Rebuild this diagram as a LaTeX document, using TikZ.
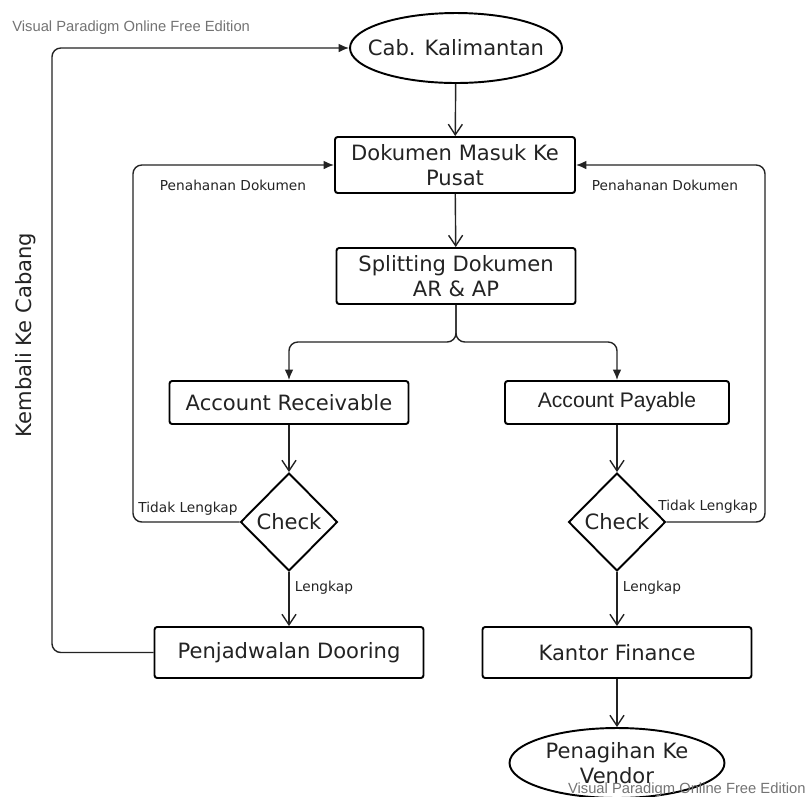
\documentclass[tikz,border=0pt]{standalone}
\usepackage{fontspec}
\setmainfont{DejaVu Sans}
\newfontfamily\arialfont{Liberation Sans}
\usetikzlibrary{arrows.meta,shapes.geometric}
\definecolor{inkgray}{RGB}{35,35,35}
\definecolor{wmgray}{RGB}{115,115,115}
\tikzset{
  proc/.style={draw=black,line width=1.1pt,rounded corners=1.5pt,align=center,inner sep=2pt,font=\fontsize{12}{14}\selectfont,text=inkgray},
  term/.style={ellipse,draw=black,line width=1.1pt,minimum height=1.4cm,inner sep=0pt,align=center,font=\fontsize{12}{14}\selectfont,text=inkgray},
  dec/.style={diamond,draw=black,line width=1.1pt,minimum width=1.94cm,minimum height=1.96cm,inner sep=0pt,font=\fontsize{12}{14}\selectfont,text=inkgray},
  vflow/.style={draw=inkgray,line width=0.8pt,-{Straight Barb[length=6pt,width=8pt]}},
  pflow/.style={draw=inkgray,line width=0.8pt,rounded corners=5pt,-{Latex[length=6pt,width=5pt]}},
  dlab/.style={font=\fontsize{7.8}{9}\selectfont,text=inkgray,inner sep=1pt},
  wmark/.style={font=\arialfont\fontsize{8.4}{10}\selectfont,text=wmgray,inner sep=0pt}
}

\begin{document}
\begin{tikzpicture}[x=0.02cm,y=-0.02cm]
  \useasboundingbox (0,0) rectangle (806,796);
  % main column
  \node[term,minimum width=4.24cm] (cab) at (456,48) {\makebox[0pt]{Cab. Kalimantan}};
  \node[proc,minimum width=4.8cm,minimum height=1.12cm] (masuk) at (455,165) {Dokumen Masuk Ke\\Pusat};
  \node[proc,minimum width=4.78cm,minimum height=1.12cm] (split) at (456,276) {Splitting Dokumen\\AR \& AP};
  \coordinate (fk) at (456,342);
  % AR / AP branches
  \node[proc,minimum width=4.78cm,minimum height=0.86cm] (ar) at (289,402.5) {Account Receivable};
  \node[proc,minimum width=4.48cm,minimum height=0.86cm,font=\arialfont\fontsize{12}{14}\selectfont] (ap) at (617,402.5) {Account Payable};
  \node[dec] (chkL) at (289,522) {Check};
  \node[dec] (chkR) at (617,522) {Check};
  \node[proc,minimum width=5.38cm,minimum height=1.02cm] (pjd) at (289,652.5) {Penjadwalan Dooring};
  \node[proc,minimum width=5.38cm,minimum height=1.02cm] (kantor) at (617,652.5) {Kantor Finance};
  \node[term,minimum width=4.3cm] (tagih) at (617,763) {Penagihan Ke\\Vendor};
  \coordinate (lpL) at (133,340); \coordinate (lpR) at (765,340); \coordinate (lpO) at (52,400);

  \draw[vflow] (cab) -- (masuk);
  \draw[vflow] (masuk) -- (split);
  \draw[pflow] (split.south) -- (fk) -| (ar.north);
  \draw[pflow] (split.south) -- (fk) -| (ap.north);
  \draw[vflow] (ar) -- (chkL);
  \draw[vflow] (ap) -- (chkR);
  \draw[vflow] (chkL) -- node[dlab,right,pos=0.3,xshift=2pt] (lkpL) {Lengkap} (pjd);
  \draw[vflow] (chkR) -- node[dlab,right,pos=0.3,xshift=2pt] (lkpR) {Lengkap} (kantor);
  \draw[vflow] (kantor) -- (tagih);
  % loops back
  \draw[pflow] (chkL.west) -| (lpL) |- (masuk.west);
  \draw[pflow] (chkR.east) -| (lpR) |- (masuk.east);
  \draw[pflow] (pjd.west) -| (lpO) |- (cab.west);

  \node[dlab] (penL) at (233,185) {Penahanan Dokumen};
  \node[dlab] (penR) at (665,185) {Penahanan Dokumen};
  \node[dlab] (tdkL) at (188,509) {Tidak Lengkap};
  \node[dlab] (tdkR) at (708,507) {Tidak Lengkap};
  \node[font=\fontsize{12}{14}\selectfont,text=inkgray,rotate=90] (kmb) at (26,335) {Kembali Ke Cabang};

  \node[wmark,anchor=base west] (wm1) at (12,31) {Visual Paradigm Online Free Edition};
  \node[wmark,anchor=base east] (wm2) at (806,793) {Visual Paradigm Online Free Edition};
\end{tikzpicture}
\end{document}
